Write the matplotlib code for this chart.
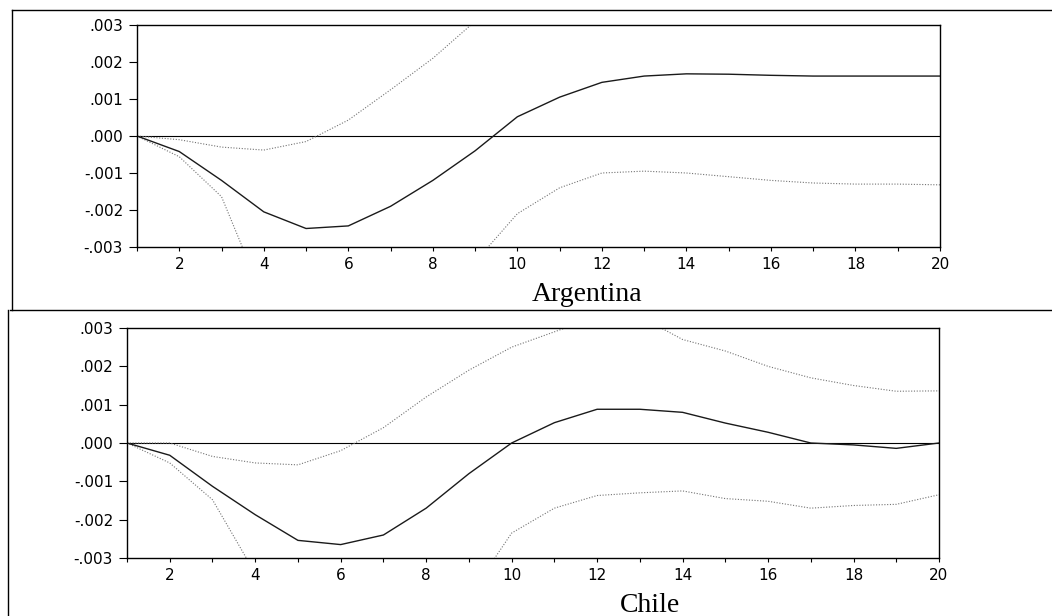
import numpy as np
import matplotlib
matplotlib.use('Agg')
import matplotlib.pyplot as plt
from matplotlib.lines import Line2D

# Periods
periods = np.arange(1, 21)

# Argentina impulse response and bands
arg_resp = [0.0, -0.00042, -0.0012, -0.00205, -0.0025, -0.00243, -0.0019, -0.0012,
            -0.0004, 0.00052, 0.00105, 0.00145, 0.00162, 0.00168, 0.00167, 0.00164,
            0.00162, 0.00162, 0.00162, 0.00162]
arg_upper = [0.0, -0.0001, -0.0003, -0.00038, -0.00015, 0.00043, 0.00125, 0.0021,
             0.0031, 0.0039, 0.0043, 0.0045, 0.0046, 0.0046, 0.0046, 0.0046,
             0.0046, 0.0046, 0.0046, 0.0046]
arg_lower = [0.0, -0.00056, -0.00164, -0.0044, -0.0051, -0.0053, -0.0049, -0.0042,
             -0.0034, -0.0021, -0.0014, -0.001, -0.00095, -0.001, -0.0011, -0.0012,
             -0.00127, -0.0013, -0.0013, -0.00132]

# Chile impulse response and bands
chl_resp = [0.0, -0.00032, -0.00113, -0.00187, -0.00254, -0.00265, -0.0024, -0.0017,
            -0.0008, 0.0, 0.00053, 0.00088, 0.00088, 0.0008, 0.00052, 0.00028,
            0.0, -0.00005, -0.00014, 0.0]
chl_upper = [0.0, 0.0, -0.00035, -0.00052, -0.00057, -0.0002, 0.0004, 0.0012,
             0.0019, 0.0025, 0.0029, 0.0033, 0.0033, 0.0027, 0.0024, 0.002,
             0.0017, 0.0015, 0.00135, 0.00136]
chl_lower = [0.0, -0.00052, -0.00148, -0.0034, -0.0045, -0.0052, -0.005, -0.0046,
             -0.004, -0.00235, -0.0017, -0.00137, -0.0013, -0.00125, -0.00145, -0.00152,
             -0.0017, -0.00163, -0.0016, -0.00135]

ytick_vals = [0.003, 0.002, 0.001, 0.0, -0.001, -0.002, -0.003]
ytick_labels = ['.003', '.002', '.001', '.000', '-.001', '-.002', '-.003']
xtick_labels = [str(p) if p % 2 == 0 else '' for p in periods]

fig = plt.figure(figsize=(10.52, 6.16), dpi=100)

# name, data, axes rect, label position (x, baseline y)
panels = [
    ('Argentina', arg_resp, arg_upper, arg_lower,
     [137/1052, 1-247/616, 803/1052, 222/616], (587/1052, 1-301/616)),
    ('Chile', chl_resp, chl_upper, chl_lower,
     [127/1052, 1-558/616, 812/1052, 230/616], (650/1052, 1-612/616)),
]

for name, resp, upper, lower, rect, (lx, ly) in panels:
    ax = fig.add_axes(rect)
    ax.axhline(0, color='black', lw=0.8)
    ax.plot(periods, upper, color='0.45', lw=0.8, ls=(0, (1, 1.5)))
    ax.plot(periods, lower, color='0.45', lw=0.8, ls=(0, (1, 1.5)))
    ax.plot(periods, resp, color='0.1', lw=1.0)
    ax.set_xlim(1, 20)
    ax.set_ylim(-0.003, 0.003)
    ax.set_xticks(periods)
    ax.set_xticklabels(xtick_labels, fontsize=11, family='DejaVu Sans')
    ax.set_yticks(ytick_vals)
    ax.set_yticklabels(ytick_labels, fontsize=11, family='DejaVu Sans')
    ax.tick_params(axis='x', direction='out', length=3, width=0.8, pad=4)
    ax.tick_params(axis='y', direction='out', length=6, width=0.8, pad=4)
    for s in ax.spines.values():
        s.set_linewidth(1.0)
    fig.text(lx, ly, name, family='Liberation Serif', fontsize=20,
             ha='center', va='baseline')

# Frame lines of the scanned figure
fig.add_artist(Line2D([12/1052, 1], [1-10/616, 1-10/616], color='black', lw=1.0))
fig.add_artist(Line2D([10/1052, 1], [1-310/616, 1-310/616], color='black', lw=1.0))
fig.add_artist(Line2D([12/1052, 12/1052], [1-10/616, 1-310/616], color='black', lw=1.0))
fig.add_artist(Line2D([8/1052, 8/1052], [1-310/616, 0], color='black', lw=1.0))

fig.savefig('out.png', dpi=100)
